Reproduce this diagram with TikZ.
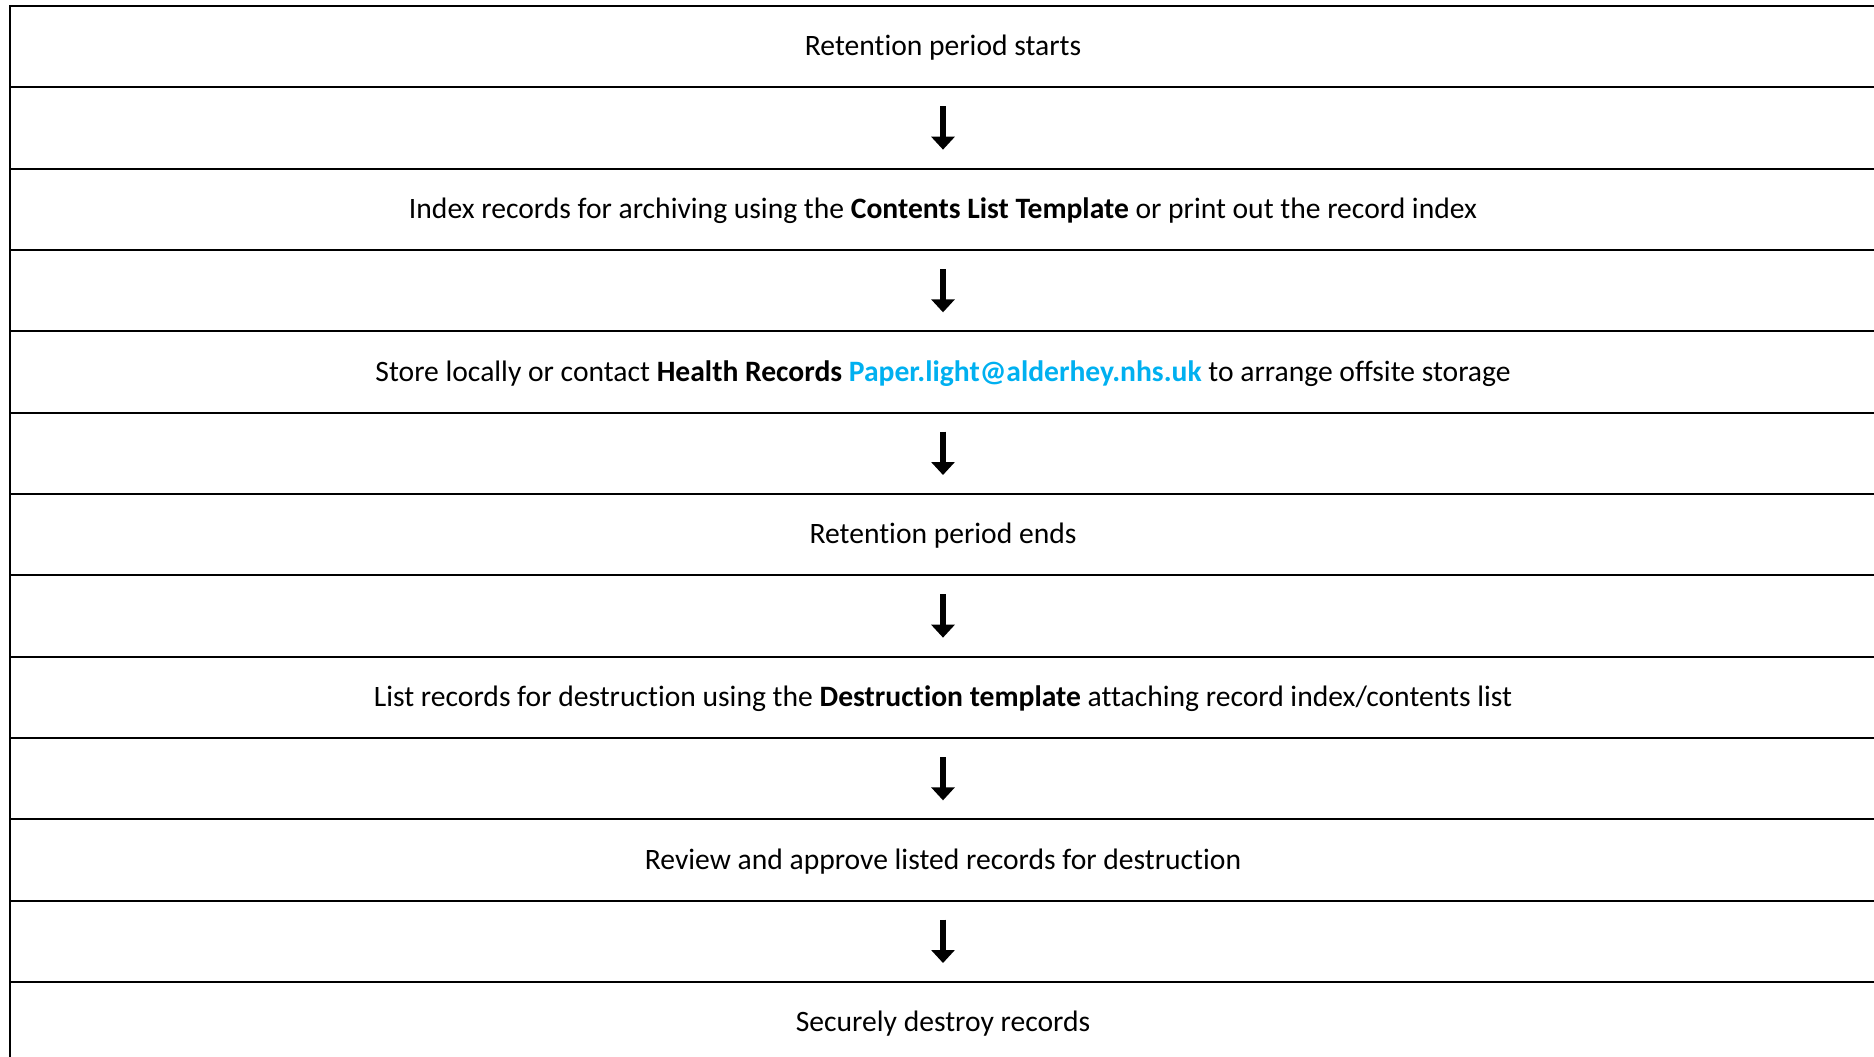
\documentclass[tikz,border=0pt]{standalone}
\usepackage{fontspec}
\setmainfont{Carlito}[Ligatures=NoCommon]
\usetikzlibrary{arrows.meta}
\definecolor{linkblue}{HTML}{00B0F0}
\begin{document}
\begin{tikzpicture}[x=1pt,y=-1pt,
  rowbox/.style={draw,line width=2pt,minimum width=1866pt,minimum height=81.33pt,
    anchor=north west,inner sep=0pt,text height=23pt,text depth=4.5pt,
    font=\fontsize{29.6}{34}\selectfont},
  downarrow/.style={line width=6pt,-{Triangle[width=23pt,length=13pt]}}]
\useasboundingbox (0,0) rectangle (1874,1057);
\clip (0,0) rectangle (1874,1057);
\node[rowbox] (r1) at (9,5) {Retention period starts};
\node[rowbox] (r2) at (9,86.33) {};
\node[rowbox] (r3) at (9,167.67) {Index records for archiving using the \textbf{Contents List Template} or print out the record index};
\node[rowbox] (r4) at (9,249) {};
\node[rowbox] (r5) at (9,330.33) {Store locally or contact \textbf{Health Records} \textcolor{linkblue}{\textbf{Paper.light@alderhey.nhs.uk}} to arrange offsite storage};
\node[rowbox] (r6) at (9,411.67) {};
\node[rowbox] (r7) at (9,493) {Retention period ends};
\node[rowbox] (r8) at (9,574.33) {};
\node[rowbox] (r9) at (9,655.67) {List records for destruction using the \textbf{Destruction template} attaching record index/contents list};
\node[rowbox] (r10) at (9,737) {};
\node[rowbox] (r11) at (9,818.33) {Review and approve listed records for destruction};
\node[rowbox] (r12) at (9,899.67) {};
\node[rowbox] (r13) at (9,981) {Securely destroy records};
\foreach \r in {r2,r4,r6,r8,r10,r12}{
  \coordinate (\r s) at ([yshift=-20pt]\r.north);
  \coordinate (\r e) at ([yshift=20pt]\r.south);
  \draw[downarrow] (\r s) -- (\r e);
}
\end{tikzpicture}
\end{document}
